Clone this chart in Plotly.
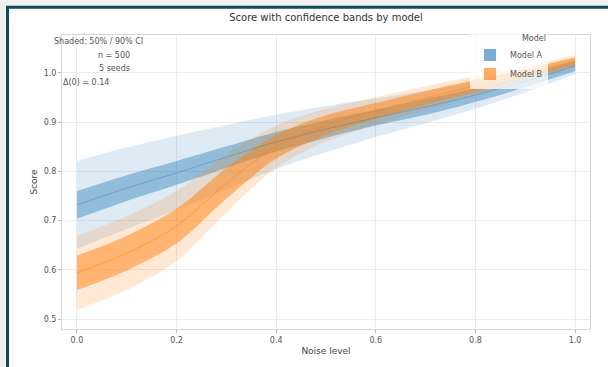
import plotly.graph_objects as go

# Noise levels along the x axis
noise = [0.0, 0.1, 0.2, 0.3, 0.4, 0.5, 0.6, 0.7, 0.8, 0.9, 1.0]

# Model A: mean score with inner (50%) and outer (90%) half-widths
a_mean = [0.732, 0.766, 0.797, 0.829, 0.860, 0.886, 0.909, 0.931, 0.955, 0.983, 1.014]
a_inner = [0.028, 0.026, 0.024, 0.022, 0.020, 0.018, 0.016, 0.016, 0.014, 0.012, 0.010]
a_outer = [0.089, 0.083, 0.075, 0.065, 0.055, 0.047, 0.039, 0.033, 0.028, 0.022, 0.016]

# Model B
b_mean = [0.594, 0.634, 0.689, 0.776, 0.850, 0.894, 0.923, 0.949, 0.974, 0.998, 1.024]
b_inner = [0.035, 0.035, 0.035, 0.031, 0.024, 0.020, 0.016, 0.014, 0.012, 0.010, 0.008]
b_outer = [0.075, 0.075, 0.071, 0.059, 0.043, 0.033, 0.028, 0.024, 0.020, 0.016, 0.012]

x_ticks = [0.0, 0.2, 0.4, 0.6, 0.8, 1.0]
y_ticks = [0.5, 0.6, 0.7, 0.8, 0.9, 1.0]

notes = ["Shaded: 50% / 90% CI", "n = 500", "5 seeds", "Δ(0) = 0.14"]

W, H = 608, 367
ML, MR, MT, MB = 62, 18, 35, 29

BLUE = "31,119,180"
ORANGE = "255,127,14"


def band(x, mid, hw, rgb, alpha, group):
    """Smooth shaded band as a lower edge plus an upper edge filled down to it."""
    up = [m + h for m, h in zip(mid, hw)]
    lo = [m - h for m, h in zip(mid, hw)]
    edge = dict(width=0, shape="spline", smoothing=0.9)
    return [
        go.Scatter(x=x, y=lo, mode="lines", line=edge, showlegend=False,
                   legendgroup=group, hoverinfo="skip"),
        go.Scatter(x=x, y=up, mode="lines", line=edge, fill="tonexty",
                   fillcolor=f"rgba({rgb},{alpha})", showlegend=False,
                   legendgroup=group, hoverinfo="skip"),
    ]


fig = go.Figure()
for tr in band(noise, a_mean, a_outer, BLUE, 0.15, "a"):
    fig.add_trace(tr)
for tr in band(noise, a_mean, a_inner, BLUE, 0.40, "a"):
    fig.add_trace(tr)
for tr in band(noise, b_mean, b_outer, ORANGE, 0.18, "b"):
    fig.add_trace(tr)
for tr in band(noise, b_mean, b_inner, ORANGE, 0.50, "b"):
    fig.add_trace(tr)

fig.add_trace(go.Scatter(x=noise, y=a_mean, mode="lines",
                         line=dict(color=f"rgba({BLUE},0.35)", width=1, shape="spline", smoothing=0.9),
                         showlegend=False, hoverinfo="skip"))
fig.add_trace(go.Scatter(x=noise, y=b_mean, mode="lines",
                         line=dict(color=f"rgba({ORANGE},0.45)", width=1, shape="spline", smoothing=0.9),
                         showlegend=False, hoverinfo="skip"))

# legend swatches
fig.add_trace(go.Scatter(x=[None], y=[None], mode="markers", name="Model A",
                         marker=dict(symbol="square", size=12, color=f"rgba({BLUE},0.6)")))
fig.add_trace(go.Scatter(x=[None], y=[None], mode="markers", name="Model B",
                         marker=dict(symbol="square", size=12, color=f"rgba({ORANGE},0.65)")))

pw, ph = W - ML - MR, H - MT - MB


def px(xp):
    return (xp - ML) / pw


def py(yp):
    return (H - MB - yp) / ph


# framed card behind the chart
fig.add_shape(type="rect", xref="paper", yref="paper", layer="below",
              x0=px(7.5), x1=px(640), y0=py(400), y1=py(6.5),
              fillcolor="white", line=dict(color="#0f4b58", width=3))

# notes block in the upper-left corner
note_pos = [(98, 42), (114, 56), (114, 70), (86, 84)]
for txt, (nx, ny) in zip(notes, note_pos):
    fig.add_annotation(text=txt, xref="paper", yref="paper", x=px(nx), y=py(ny),
                       xanchor="center", yanchor="middle",
                       showarrow=False, font=dict(size=8, color="#555555"))

axis_common = dict(showgrid=True, gridcolor="#ebebeb", gridwidth=1, zeroline=False,
                   showline=True, linecolor="#d6d6d6", mirror=True, ticks="outside",
                   ticklen=3, tickcolor="#bbbbbb", tickfont=dict(size=8, color="#555555"))

fig.update_layout(
    width=W, height=H,
    margin=dict(l=ML, r=MR, t=MT, b=MB),
    paper_bgcolor="#f0f0f0", plot_bgcolor="rgba(0,0,0,0)",
    font=dict(family="DejaVu Sans", color="#444444"),
    title=dict(text="Score with confidence bands by model", x=px(326), xanchor="center",
               xref="paper", y=1 - 17 / H, yanchor="middle", font=dict(size=10, color="#333333")),
    xaxis=dict(range=[-0.03, 1.03], tickvals=x_ticks, tickformat=".1f",
               title=dict(text="Noise level", font=dict(size=9), standoff=4), **axis_common),
    yaxis=dict(range=[0.48, 1.077], tickvals=y_ticks, tickformat=".1f",
               title=dict(text="Score", font=dict(size=9), standoff=4), **axis_common),
    legend=dict(x=px(470), xanchor="left", y=py(30), yanchor="top", traceorder="normal",
                bgcolor="rgba(255,255,255,0.75)", font=dict(size=8, color="#555555"),
                title=dict(text="Model", side="top right", font=dict(size=8)),
                itemwidth=30, tracegroupgap=0),
)

fig.write_html("out.html")
